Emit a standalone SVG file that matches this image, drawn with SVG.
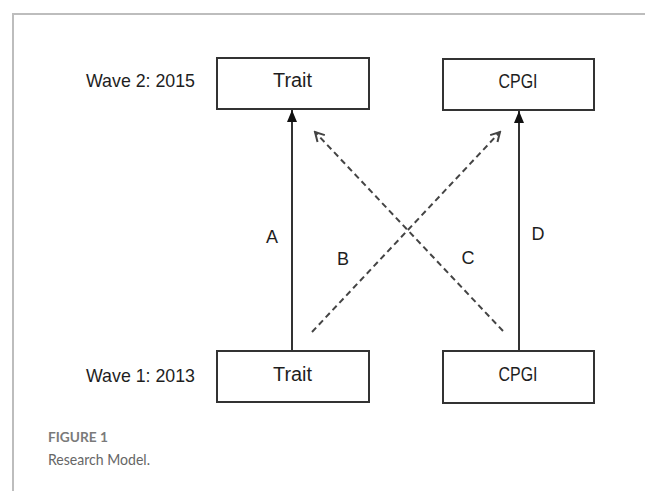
<svg xmlns="http://www.w3.org/2000/svg" width="645" height="491" viewBox="0 0 645 491">
<style>
.box{fill:#fff;stroke:#333;stroke-width:2}
.lbl{font-family:"Liberation Sans",Arial,sans-serif;fill:#1e1e1e}
.solid{stroke:#333;stroke-width:2;fill:none}
.dash{stroke:#444;stroke-width:2;fill:none;stroke-dasharray:6 4}
.cap{font-family:Lato,"Open Sans",sans-serif}
</style>
<defs>
<marker id="filled" markerWidth="12" markerHeight="10" refX="12" refY="5" orient="auto" markerUnits="userSpaceOnUse" viewBox="0 0 12 10">
<path d="M0,0 L12,5 L0,10 Z" fill="#111"/>
</marker>
<marker id="open" markerWidth="14" markerHeight="14" refX="12" refY="7" orient="auto" markerUnits="userSpaceOnUse" viewBox="0 0 14 14">
<path d="M3,2 L12,7 L3,12" fill="none" stroke="#444" stroke-width="2"/>
</marker>
</defs>
<rect width="645" height="491" fill="#fff"/>
<path d="M13,491 L13,14 L645,14" fill="none" stroke="#bdbdbd" stroke-width="2"/>

<text class="lbl" x="86" y="87" font-size="19" textLength="109" lengthAdjust="spacingAndGlyphs">Wave 2: 2015</text>
<text class="lbl" x="86" y="382" font-size="19" textLength="109" lengthAdjust="spacingAndGlyphs">Wave 1: 2013</text>

<g id="trait2015">
<rect class="box" x="217" y="58" width="152" height="51"/>
<text class="lbl" x="292.5" y="87" font-size="20" text-anchor="middle" textLength="39" lengthAdjust="spacingAndGlyphs">Trait</text>
</g>
<g id="cpgi2015">
<rect class="box" x="443" y="59" width="151" height="51"/>
<text class="lbl" x="518" y="88" font-size="20" text-anchor="middle" textLength="39" lengthAdjust="spacingAndGlyphs">CPGI</text>
</g>
<g id="trait2013">
<rect class="box" x="217" y="351" width="152" height="51"/>
<text class="lbl" x="292.5" y="381" font-size="20" text-anchor="middle" textLength="39" lengthAdjust="spacingAndGlyphs">Trait</text>
</g>
<g id="cpgi2013">
<rect class="box" x="443" y="351" width="151" height="52"/>
<text class="lbl" x="518" y="381" font-size="20" text-anchor="middle" textLength="39" lengthAdjust="spacingAndGlyphs">CPGI</text>
</g>

<g id="connectors">
<line class="solid" x1="292" y1="351" x2="292" y2="110" marker-end="url(#filled)"/>
<line class="solid" x1="519" y1="351" x2="519" y2="111" marker-end="url(#filled)"/>
<line class="dash" x1="312" y1="332" x2="500" y2="132" marker-end="url(#open)"/>
<line class="dash" x1="503" y1="331" x2="315" y2="132" marker-end="url(#open)"/>
<text class="lbl" x="272" y="243" font-size="18" text-anchor="middle">A</text>
<text class="lbl" x="343" y="265" font-size="18" text-anchor="middle">B</text>
<text class="lbl" x="468" y="264" font-size="18" text-anchor="middle">C</text>
<text class="lbl" x="538" y="240" font-size="18" text-anchor="middle">D</text>
</g>

<text class="cap" x="48" y="442" font-size="13" font-weight="bold" fill="#7a7a7a" textLength="60" lengthAdjust="spacingAndGlyphs">FIGURE 1</text>
<text class="cap" x="48" y="465" font-size="16" fill="#666" textLength="102" lengthAdjust="spacingAndGlyphs">Research Model.</text>
</svg>
